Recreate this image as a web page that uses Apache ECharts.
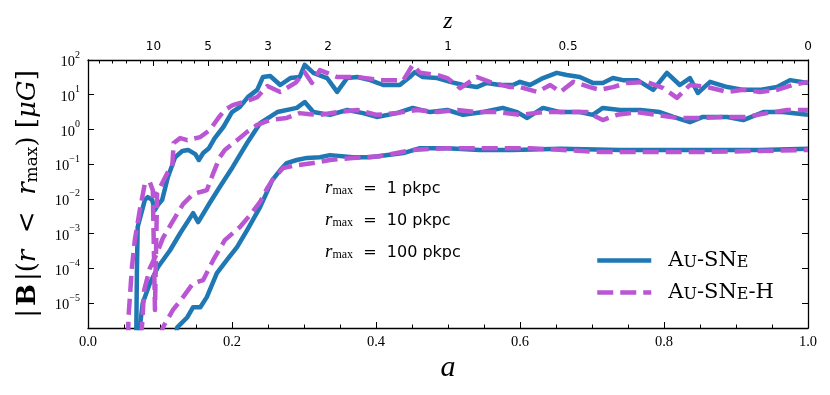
<!DOCTYPE html>
<html>
<head>
<meta charset="utf-8">
<title>|B|(r &lt; rmax) vs a</title>
<script src="https://cdn.jsdelivr.net/npm/echarts@6/dist/echarts.min.js"></script>
<style>
  html, body { margin: 0; padding: 0; background: #fff; }
  #main { width: 830px; height: 395px; }
</style>
</head>
<body>
<div id="main"></div>
<script>
// colours of the two runs
var COLOR_SNE = '#1f77b4';
var COLOR_SNEH = '#ba55d3';

// [a, log10(|B| / muG)]
var sne_1kpc = [[.067,-6.0],[.068,-3.97],[.069,-2.81],[.079,-2.03],[.083,-1.95],[.089,-2.03],[.093,-2.32],[.097,-2.18],[.103,-2.03],[.111,-1.37],[.121,-0.80],[.131,-0.62],[.139,-0.59],[.149,-0.71],[.154,-0.88],[.160,-0.68],[.168,-0.54],[.176,-0.25],[.188,0.07],[.200,0.50],[.211,0.65],[.222,0.93],[.235,1.14],[.243,1.51],[.253,1.54],[.267,1.28],[.281,1.48],[.294,1.51],[.301,1.86],[.313,1.63],[.332,1.48],[.346,1.08],[.360,1.48],[.374,1.51],[.392,1.42],[.410,1.28],[.433,1.28],[.447,1.51],[.454,1.65],[.465,1.51],[.485,1.48],[.503,1.37],[.521,1.28],[.540,1.22],[.554,1.34],[.572,1.28],[.590,1.28],[.600,1.37],[.614,1.28],[.632,1.48],[.651,1.63],[.665,1.57],[.683,1.51],[.701,1.34],[.715,1.34],[.729,1.48],[.743,1.42],[.763,1.42],[.785,1.14],[.804,1.63],[.822,1.28],[.836,1.48],[.847,1.05],[.864,1.37],[.888,1.22],[.910,1.14],[.933,1.14],[.957,1.22],[.975,1.42],[1.0,1.34]];
var sneh_1kpc = [[.056,-6.0],[.056,-5.49],[.061,-3.97],[.065,-3.19],[.072,-2.32],[.079,-1.55],[.086,-1.52],[.090,-1.75],[.093,-5.2],[.096,-1.83],[.110,-1.26],[.117,-1.08],[.119,-0.39],[.128,-0.25],[.138,-0.31],[.156,-0.22],[.169,-0.02],[.181,0.33],[.190,0.56],[.201,0.70],[.221,0.82],[.235,0.93],[.249,1.25],[.267,1.08],[.288,1.34],[.301,1.65],[.311,1.34],[.322,1.71],[.346,1.51],[.374,1.51],[.406,1.42],[.438,1.42],[.451,1.86],[.461,1.63],[.485,1.57],[.499,1.48],[.517,1.19],[.540,1.51],[.558,1.37],[.586,1.22],[.600,1.22],[.624,1.08],[.642,1.28],[.656,1.08],[.674,1.37],[.697,1.22],[.711,1.14],[.729,1.22],[.749,1.34],[.776,1.37],[.799,1.19],[.818,0.91],[.836,1.28],[.860,1.22],[.888,1.08],[.910,1.14],[.933,1.08],[.957,1.14],[.979,1.28],[1.0,1.37]];
var sne_10kpc = [[.071,-6.0],[.072,-5.70],[.076,-5.00],[.086,-4.43],[.097,-3.97],[.114,-3.48],[.128,-2.99],[.146,-2.41],[.153,-2.67],[.169,-2.12],[.183,-1.66],[.201,-1.08],[.221,-0.39],[.239,0.18],[.263,0.50],[.290,0.62],[.301,0.79],[.313,0.50],[.336,0.42],[.360,0.56],[.382,0.47],[.401,0.36],[.429,0.47],[.451,0.62],[.475,0.50],[.499,0.56],[.521,0.42],[.549,0.50],[.576,0.62],[.596,0.50],[.610,0.33],[.632,0.62],[.656,0.50],[.683,0.50],[.701,0.42],[.715,0.62],[.739,0.56],[.767,0.56],[.794,0.50],[.813,0.36],[.836,0.21],[.854,0.36],[.888,0.36],[.910,0.27],[.938,0.50],[.965,0.50],[1.0,0.42]];
var sneh_10kpc = [[.074,-6.0],[.078,-4.63],[.086,-3.99],[.096,-3.56],[.104,-3.13],[.117,-2.67],[.132,-2.15],[.146,-1.86],[.160,-1.78],[.165,-1.75],[.174,-1.26],[.183,-0.80],[.190,-0.59],[.207,-0.31],[.221,-0.07],[.235,0.13],[.253,0.27],[.276,0.33],[.294,0.47],[.308,0.44],[.322,0.42],[.346,0.50],[.374,0.56],[.401,0.42],[.429,0.47],[.457,0.56],[.485,0.50],[.513,0.56],[.540,0.50],[.568,0.50],[.600,0.42],[.632,0.50],[.665,0.50],[.693,0.50],[.715,0.27],[.735,0.42],[.763,0.50],[.790,0.42],[.818,0.33],[.850,0.33],[.888,0.36],[.915,0.36],[.943,0.47],[.971,0.56],[1.0,0.56]];
var sne_100kpc = [[.121,-6.0],[.124,-5.70],[.138,-5.41],[.146,-5.12],[.156,-5.12],[.165,-4.83],[.179,-4.14],[.193,-3.76],[.207,-3.39],[.221,-2.90],[.239,-2.24],[.256,-1.46],[.267,-1.17],[.276,-0.97],[.290,-0.88],[.304,-0.82],[.322,-0.80],[.336,-0.74],[.368,-0.80],[.392,-0.80],[.438,-0.68],[.461,-0.54],[.499,-0.54],[.544,-0.59],[.590,-0.59],[.656,-0.56],[.739,-0.59],[.850,-0.59],[.933,-0.59],[1.0,-0.56]];
var sneh_100kpc = [[.100,-6.0],[.104,-5.70],[.118,-5.20],[.132,-4.83],[.146,-4.43],[.160,-4.34],[.174,-3.76],[.190,-3.19],[.211,-2.81],[.225,-2.47],[.239,-2.09],[.249,-1.69],[.256,-1.46],[.271,-1.11],[.290,-1.03],[.313,-0.97],[.336,-0.88],[.368,-0.82],[.406,-0.77],[.451,-0.59],[.499,-0.54],[.544,-0.54],[.614,-0.54],[.711,-0.65],[.850,-0.65],[.933,-0.62],[1.0,-0.59]];

// ticks
var yDecades = [-5, -4, -3, -2, -1, 0, 1, 2];
var zLabels = [10, 5, 3, 2, 1, 0.5, 0];
var zMinorTicks = [.015,.033,.053,.072,.110,.129,.147,.186,.206,.225,.269,.289,.308,.354,.374,.394,.413,.432,.451,.471,.526,.546,.565,.585,.604,.624,.642,.697,.715,.735,.754,.774,.792,.811,.831,.849,.868,.888,.906,.925,.944,.964,.981];
var rmaxLabels = ['1', '10', '100'];

var SERIF = '"Liberation Serif", "DejaVu Serif", serif';
var WSERIF = '"DejaVu Serif", serif';
var SANS = '"DejaVu Sans", sans-serif';

var GRID_H = 395 - 60 - 67;

var zTickA = zLabels.map(function (z) { return 1 / (1 + z); });

function supMinus(v) {
    return v < 0 ? '\u2212' + (-v) : String(v);
}

function line(name, data, color, dashed) {
    return {
        name: name,
        type: 'line',
        data: data,
        symbol: 'none',
        clip: true,
        silent: true,
        lineStyle: { color: color, width: 4.5, type: dashed ? [16, 7] : 'solid', cap: 'butt', join: 'round' },
        itemStyle: { color: color }
    };
}

var myChart = echarts.init(document.getElementById('main'));

var tickStyle = { color: '#000', width: 1 };
var frameLine = { show: true, onZero: false, lineStyle: { color: '#000', width: 1.3 } };

var option = {
    animation: false,
    backgroundColor: '#fff',
    grid: { left: 88, right: 22, top: 60, bottom: 67, containLabel: false, outerBoundsMode: 'none' },
    legend: {
        data: ['Au-SNe', 'Au-SNe-H'],
        orient: 'vertical',
        left: 590,
        top: 245,
        itemWidth: 54,
        itemHeight: 14,
        itemGap: 11,
        selectedMode: false,
        itemStyle: { opacity: 0 },
        lineStyle: { width: 4.5 },
        formatter: function (name) {
            return name === 'Au-SNe'
                ? '{c|A}{sc|U}{c|-SN}{sc|E}'
                : '{c|A}{sc|U}{c|-SN}{sc|E}{c|-H}';
        },
        textStyle: {
            padding: [0, 0, 0, 12],
            rich: {
                c: { fontFamily: WSERIF, fontSize: 21, color: '#000', lineHeight: 21, verticalAlign: 'bottom' },
                sc: { fontFamily: WSERIF, fontSize: 16, color: '#000', lineHeight: 16, verticalAlign: 'bottom' }
            }
        }
    },
    xAxis: [
        {
            type: 'value', position: 'bottom', min: 0, max: 1, interval: 0.2,
            name: 'a', nameLocation: 'middle', nameGap: 25, nameMoveOverlap: false,
            nameTextStyle: { fontFamily: SERIF, fontStyle: 'italic', fontSize: 30, color: '#000' },
            axisLine: frameLine,
            axisTick: { show: true, inside: true, length: 6, lineStyle: tickStyle },
            minorTick: { show: true, splitNumber: 4, length: 3.5, lineStyle: tickStyle },
            splitLine: { show: false },
            axisLabel: {
                margin: 7, fontFamily: SERIF, fontSize: 14.5, color: '#000',
                formatter: function (v) { return v.toFixed(1); }
            }
        },
        {
            type: 'value', position: 'top', min: 0, max: 1,
            name: 'z', nameLocation: 'middle', nameGap: 26, nameMoveOverlap: false,
            nameTextStyle: { fontFamily: SERIF, fontStyle: 'italic', fontSize: 24, color: '#000' },
            axisLine: frameLine,
            axisTick: { show: true, inside: true, length: 6, lineStyle: tickStyle, customValues: zTickA },
            splitLine: { show: false },
            axisLabel: {
                margin: 7, fontFamily: SANS, fontSize: 12, color: '#000',
                customValues: zTickA,
                formatter: function (v) { return String(Math.round((1 / v - 1) * 10) / 10); }
            }
        },
        {
            // minor z ticks, hung from the top edge of the frame
            type: 'value', position: 'bottom', offset: -GRID_H, min: 0, max: 1,
            axisLine: { show: false, onZero: false },
            axisTick: { show: true, inside: false, length: 3.5, lineStyle: tickStyle, customValues: zMinorTicks },
            splitLine: { show: false },
            axisLabel: { show: false }
        }
    ],
    yAxis: [
        {
            type: 'value', position: 'left', min: -5.72, max: 2,
            name: '{n||}{bb|B}{n||(}{i|r}{n|  <  }{i|r}{sub|max}{n|) [}{i|\u03bcG}{n|]}',
            nameLocation: 'middle', nameRotate: 90, nameGap: 47, nameMoveOverlap: false,
            nameTextStyle: {
                color: '#000',
                rich: {
                    n: { fontFamily: WSERIF, fontSize: 26, color: '#000' },
                    bb: { fontFamily: WSERIF, fontSize: 26, fontWeight: 'bold', color: '#000', padding: [0, 3, 0, 3] },
                    i: { fontFamily: WSERIF, fontSize: 26, fontStyle: 'italic', color: '#000' },
                    sub: { fontFamily: WSERIF, fontSize: 17, color: '#000', verticalAlign: 'bottom', lineHeight: 13 }
                }
            },
            axisLine: frameLine,
            axisTick: { show: true, inside: true, length: 6, lineStyle: tickStyle, customValues: yDecades },
            splitLine: { show: false },
            axisLabel: {
                margin: 8,
                customValues: yDecades,
                formatter: function (v) { return '{b|10}{s|' + supMinus(v) + '}'; },
                rich: {
                    b: { fontFamily: SERIF, fontSize: 14.5, color: '#000', lineHeight: 20, verticalAlign: 'bottom' },
                    s: { fontFamily: SERIF, fontSize: 10, color: '#000', lineHeight: 10, verticalAlign: 'top' }
                }
            }
        },
        {
            type: 'value', position: 'right', min: -5.72, max: 2,
            axisLine: frameLine,
            axisTick: { show: true, inside: true, length: 6, lineStyle: tickStyle, customValues: yDecades },
            splitLine: { show: false },
            axisLabel: { show: false }
        }
    ],
    graphic: rmaxLabels.map(function (r, k) {
        return {
            type: 'text',
            left: 325,
            top: 178 + k * 32,
            silent: true,
            style: {
                text: '{i|r}{sub|max}{n|  =  ' + r + ' pkpc}',
                rich: {
                    i: { fontFamily: SERIF, fontStyle: 'italic', fontSize: 19, fill: '#000', lineHeight: 20, verticalAlign: 'bottom' },
                    sub: { fontFamily: SERIF, fontSize: 12, fill: '#000', lineHeight: 15, verticalAlign: 'bottom' },
                    n: { fontFamily: SANS, fontSize: 16, fill: '#000', lineHeight: 20, verticalAlign: 'bottom' }
                }
            }
        };
    }),
    series: [
        line('Au-SNe', sne_1kpc, COLOR_SNE, false),
        line('Au-SNe', sne_10kpc, COLOR_SNE, false),
        line('Au-SNe', sne_100kpc, COLOR_SNE, false),
        line('Au-SNe-H', sneh_1kpc, COLOR_SNEH, true),
        line('Au-SNe-H', sneh_10kpc, COLOR_SNEH, true),
        line('Au-SNe-H', sneh_100kpc, COLOR_SNEH, true)
    ]
};

myChart.setOption(option);
</script>
</body>
</html>
